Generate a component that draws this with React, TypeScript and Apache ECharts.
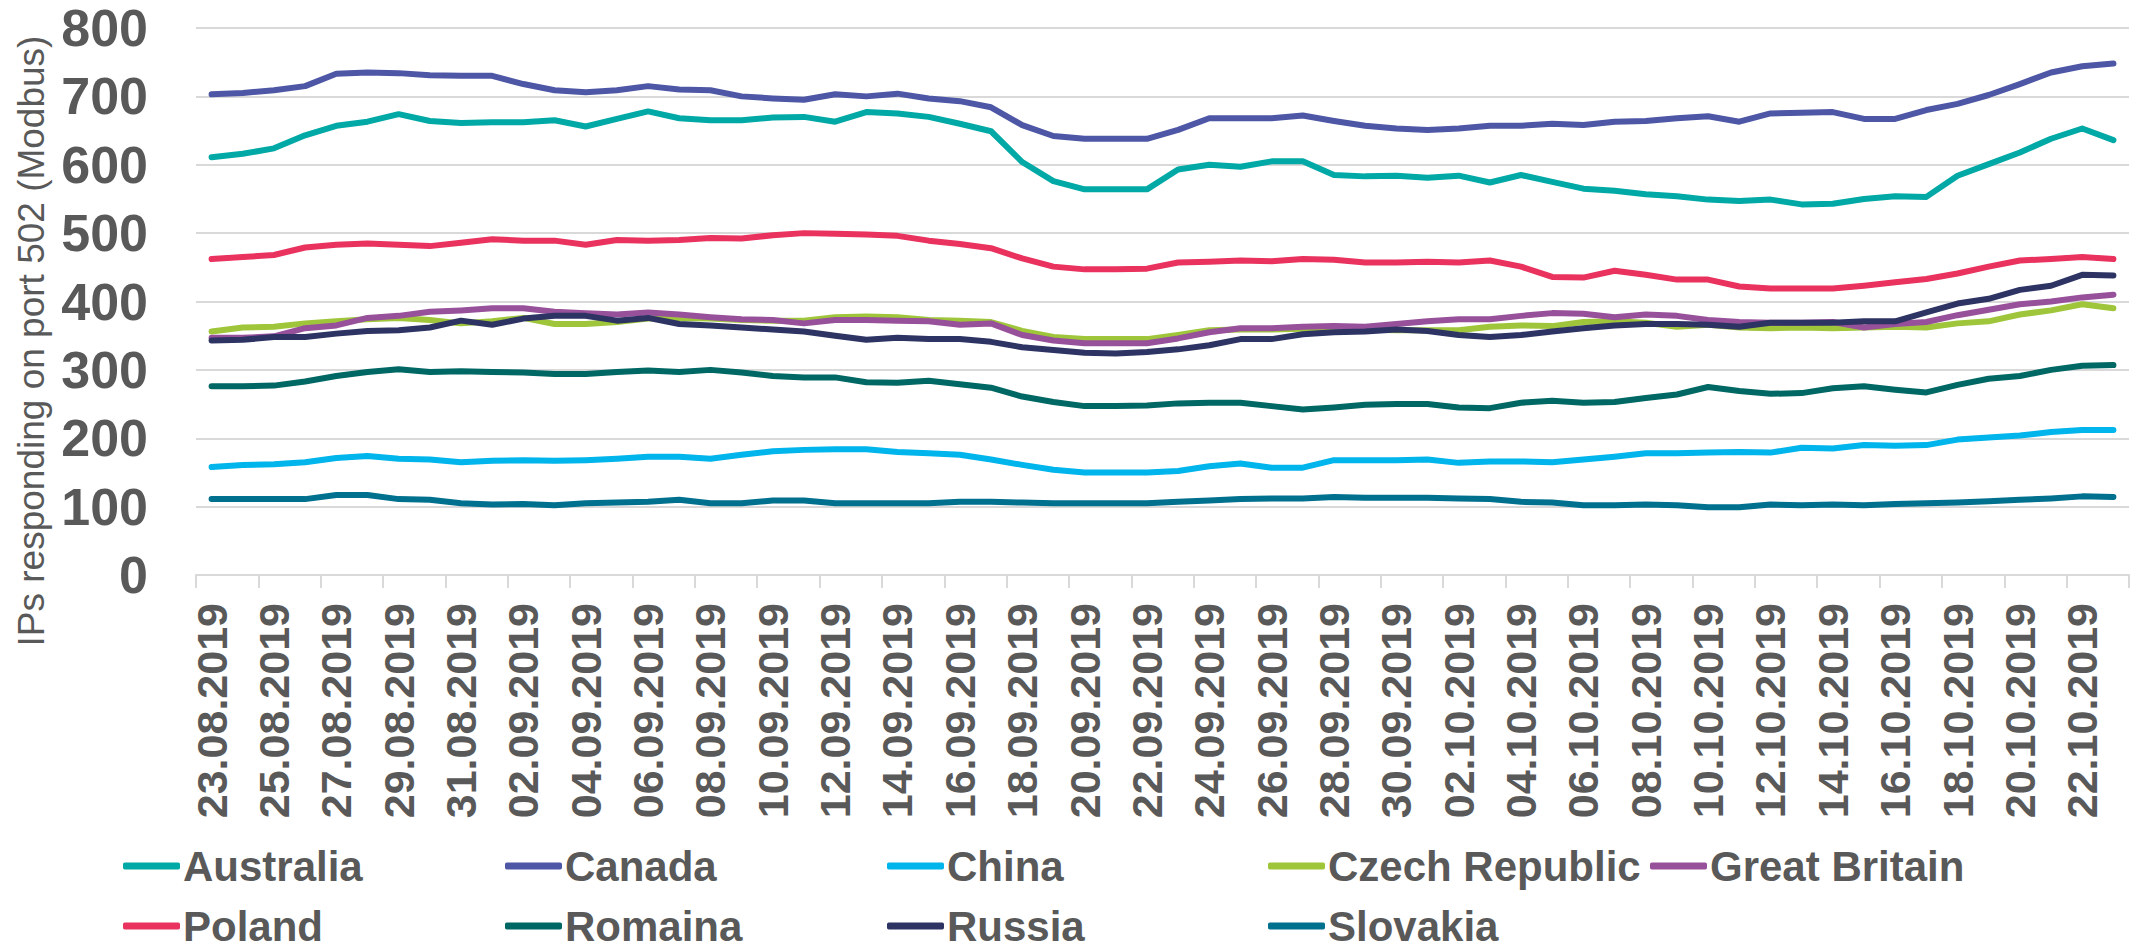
import React, { useEffect, useRef } from "react";
import * as echarts from "echarts";

const dates = [
  "23.08.2019", "24.08.2019", "25.08.2019", "26.08.2019", "27.08.2019", "28.08.2019", "29.08.2019", "30.08.2019", "31.08.2019",
  "01.09.2019", "02.09.2019", "03.09.2019", "04.09.2019", "05.09.2019", "06.09.2019", "07.09.2019", "08.09.2019", "09.09.2019",
  "10.09.2019", "11.09.2019", "12.09.2019", "13.09.2019", "14.09.2019", "15.09.2019", "16.09.2019", "17.09.2019", "18.09.2019",
  "19.09.2019", "20.09.2019", "21.09.2019", "22.09.2019", "23.09.2019", "24.09.2019", "25.09.2019", "26.09.2019", "27.09.2019",
  "28.09.2019", "29.09.2019", "30.09.2019", "01.10.2019", "02.10.2019", "03.10.2019", "04.10.2019", "05.10.2019", "06.10.2019",
  "07.10.2019", "08.10.2019", "09.10.2019", "10.10.2019", "11.10.2019", "12.10.2019", "13.10.2019", "14.10.2019", "15.10.2019",
  "16.10.2019", "17.10.2019", "18.10.2019", "19.10.2019", "20.10.2019", "21.10.2019", "22.10.2019", "23.10.2019",
];

const australia = [611, 616, 624, 643, 657, 663, 674, 664, 661, 662, 662, 665, 656, 667, 678, 668, 665, 665, 669, 670, 663, 677, 675, 670, 660, 649, 604, 576, 564, 564, 564, 593, 600, 597, 605, 605, 585, 583, 584, 581, 584, 574, 585, 575, 565, 562, 557, 554, 549, 547, 549, 542, 543, 550, 554, 553, 584, 601, 618, 638, 653, 636];
const canada = [703, 705, 709, 715, 733, 735, 734, 731, 730, 730, 718, 709, 706, 709, 715, 710, 709, 700, 697, 695, 703, 700, 704, 697, 693, 684, 658, 642, 638, 638, 638, 651, 668, 668, 668, 672, 664, 657, 653, 651, 653, 657, 657, 660, 658, 663, 664, 668, 671, 663, 675, 676, 677, 667, 667, 680, 689, 702, 718, 735, 744, 748];
const china = [158, 161, 162, 165, 171, 174, 170, 169, 165, 167, 168, 167, 168, 170, 173, 173, 170, 176, 181, 183, 184, 184, 180, 178, 176, 169, 161, 154, 150, 150, 150, 152, 159, 163, 157, 157, 168, 168, 168, 169, 164, 166, 166, 165, 169, 173, 178, 178, 179, 180, 179, 186, 185, 190, 189, 190, 198, 201, 204, 209, 212, 212];
const czech = [356, 362, 363, 368, 371, 374, 376, 373, 368, 371, 376, 367, 367, 370, 375, 376, 375, 373, 372, 372, 377, 378, 377, 373, 372, 370, 357, 348, 345, 345, 345, 351, 358, 359, 359, 360, 360, 359, 358, 358, 358, 363, 365, 364, 370, 371, 369, 363, 366, 362, 361, 362, 361, 362, 363, 362, 368, 371, 381, 387, 396, 390];
const greatBritain = [347, 347, 349, 361, 365, 376, 379, 385, 387, 390, 390, 385, 383, 381, 384, 381, 377, 374, 373, 368, 373, 373, 372, 371, 366, 368, 351, 343, 339, 339, 339, 346, 355, 361, 361, 363, 364, 363, 367, 371, 374, 374, 379, 383, 382, 377, 381, 379, 373, 370, 369, 369, 370, 362, 367, 370, 380, 388, 396, 400, 406, 410];
const poland = [462, 465, 468, 479, 483, 485, 483, 481, 486, 491, 489, 489, 483, 490, 489, 490, 493, 492, 497, 500, 499, 498, 496, 489, 484, 478, 463, 451, 447, 447, 448, 457, 458, 460, 459, 462, 461, 457, 457, 458, 457, 460, 451, 436, 435, 445, 439, 432, 432, 422, 419, 419, 419, 423, 428, 433, 441, 451, 460, 462, 465, 462];
const romania = [276, 276, 277, 283, 291, 297, 301, 297, 298, 297, 296, 294, 294, 297, 299, 297, 300, 296, 291, 289, 289, 282, 281, 284, 279, 274, 261, 253, 247, 247, 248, 251, 252, 252, 247, 242, 245, 249, 250, 250, 245, 244, 252, 255, 252, 253, 259, 264, 275, 269, 265, 266, 273, 276, 271, 267, 278, 287, 291, 300, 306, 307];
const russia = [343, 344, 348, 348, 353, 357, 358, 362, 372, 366, 375, 379, 379, 372, 376, 367, 365, 362, 359, 356, 350, 344, 347, 345, 345, 341, 333, 329, 325, 324, 326, 330, 336, 345, 345, 352, 355, 356, 359, 357, 351, 348, 351, 356, 361, 365, 367, 367, 366, 363, 369, 369, 369, 371, 371, 384, 397, 404, 417, 423, 439, 438];
const slovakia = [111, 111, 111, 111, 117, 117, 111, 110, 105, 103, 104, 102, 105, 106, 107, 110, 105, 105, 109, 109, 105, 105, 105, 105, 107, 107, 106, 105, 105, 105, 105, 107, 109, 111, 112, 112, 114, 113, 113, 113, 112, 111, 107, 106, 102, 102, 103, 102, 99, 99, 103, 102, 103, 102, 104, 105, 106, 108, 110, 112, 115, 114];

const seriesNames = ["Australia", "Canada", "China", "Czech Republic", "Great Britain", "Poland", "Romaina", "Russia", "Slovakia"];
const seriesData = [australia, canada, china, czech, greatBritain, poland, romania, russia, slovakia];
const seriesColors = ["#00A9A5", "#4E57A5", "#00B4EC", "#9FC63B", "#97509A", "#E9325E", "#006864", "#2D3363", "#00708F"];

const yTicks = { min: 0, max: 800, interval: 100 };
const yAxisTitle = "IPs responding on port 502 (Modbus)";

// legend layout: [left, top]
const legendPos: [number, number][] = [
  [123, 845], [505, 845], [887, 845], [1268, 845], [1650, 845],
  [123, 905], [505, 905], [887, 905], [1268, 905],
];

const FONT = '"Liberation Sans", Arial, sans-serif';
const TEXT = "#595959";
const GRID = "#D9D9D9";

export default function App() {
  const ref = useRef<HTMLDivElement>(null);
  useEffect(() => {
    if (!ref.current) return;
    const chart = echarts.init(ref.current, undefined, { renderer: "svg" });
    chart.setOption({
      animation: false,
      backgroundColor: "#ffffff",
      textStyle: { fontFamily: FONT },
      grid: { left: 196, right: 19, top: 28, bottom: 375, containLabel: false },
      legend: seriesNames.map((n, i) => ({
        data: [n],
        left: legendPos[i][0],
        top: legendPos[i][1],
        padding: 0,
        icon: "roundRect",
        itemWidth: 57,
        itemHeight: 7,
        itemGap: 0,
        selectedMode: false,
        textStyle: { fontFamily: FONT, fontSize: 42, lineHeight: 40, fontWeight: "bold", color: TEXT, padding: [0, 0, 0, -2] },
      })),
      xAxis: {
        type: "category",
        data: dates,
        boundaryGap: true,
        axisLine: { show: true, lineStyle: { color: GRID, width: 2 } },
        axisTick: { show: true, interval: 1, length: 13, lineStyle: { color: GRID, width: 2 } },
        axisLabel: {
          interval: 1,
          rotate: 90,
          margin: 28,
          fontFamily: FONT,
          fontSize: 43,
          fontWeight: "bold",
          color: TEXT,
        },
      },
      yAxis: {
        type: "value",
        min: yTicks.min,
        max: yTicks.max,
        interval: yTicks.interval,
        axisLine: { show: false },
        axisTick: { show: false },
        splitLine: { show: true, lineStyle: { color: GRID, width: 2 } },
        axisLabel: { margin: 48, fontFamily: FONT, fontSize: 52, lineHeight: 40, fontWeight: "bold", color: TEXT },
      },
      graphic: [
        {
          type: "text",
          x: 31,
          y: 341,
          rotation: Math.PI / 2,
          style: {
            text: yAxisTitle,
            font: `37px ${FONT}`,
            fill: TEXT,
            textAlign: "center",
            textVerticalAlign: "middle",
          },
        },
      ],
      series: seriesNames.map((n, i) => ({
        name: n,
        type: "line",
        data: seriesData[i],
        symbol: "none",
        lineStyle: { width: 6, color: seriesColors[i], cap: "round", join: "round" },
        itemStyle: { color: seriesColors[i] },
      })),
    });
    return () => chart.dispose();
  }, []);
  return <div ref={ref} style={{ position: "fixed", left: 0, top: 0, width: 2148, height: 950 }} />;
}
